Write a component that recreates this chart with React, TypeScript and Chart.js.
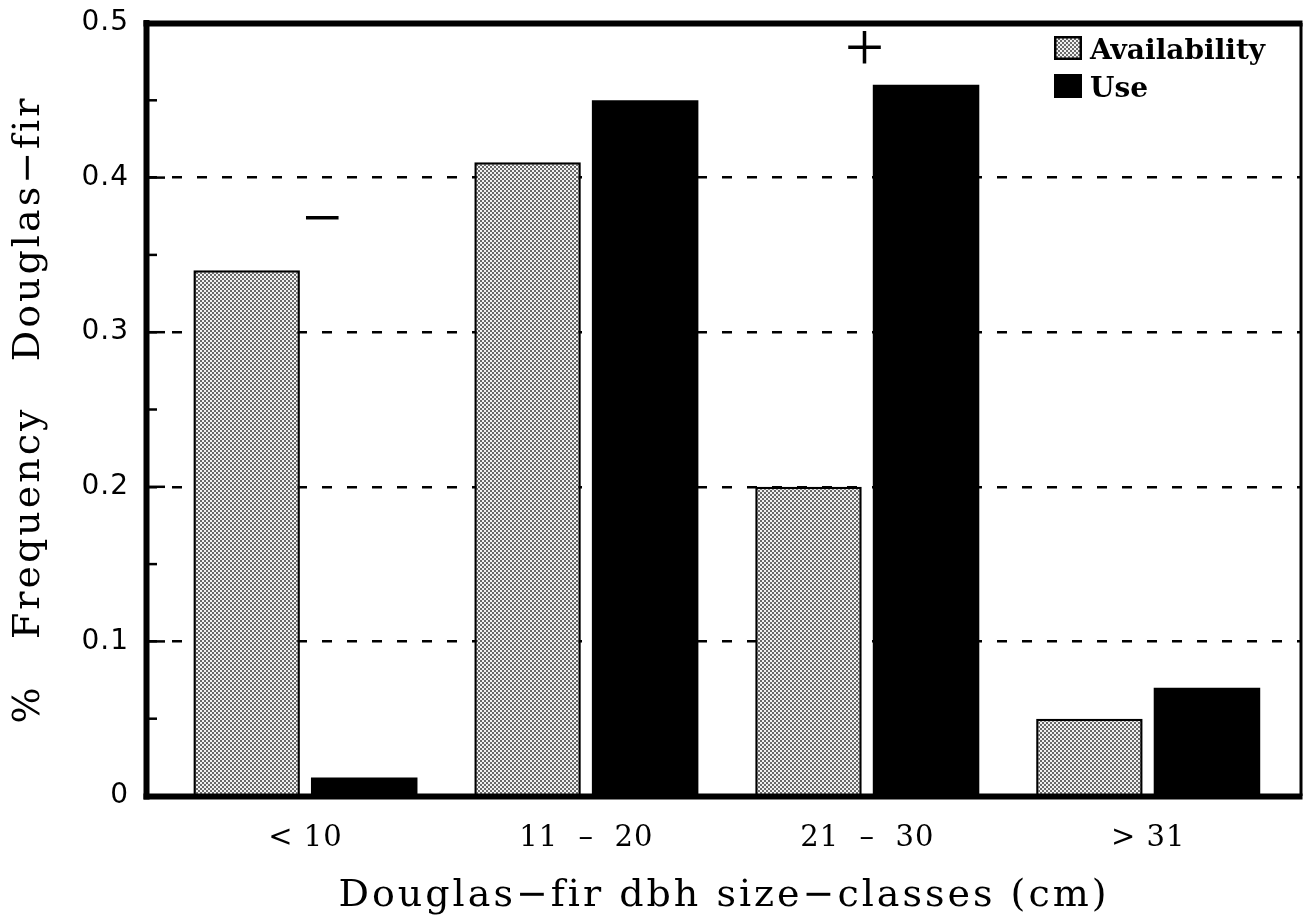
import React, { useEffect, useRef } from 'react';
import { Chart, registerables } from 'chart.js';

Chart.register(...registerables);

// ---- data ----
const categories = ['< 10', '11  –  20', '21  –  30', '> 31'];
const categoryPositions = [1, 2, 3, 4];
const availability = [0.34, 0.41, 0.2, 0.05];
const use = [0.012, 0.45, 0.46, 0.07];
const seriesLabels = ['Availability', 'Use'];
const signSymbols = ['−', '+'];
const signX = [1.06, 2.99];
const signY = [0.37, 0.48];
const yMin = 0;
const yMax = 0.5;
const yStep = 0.1;
const xTitle = 'Douglas−fir dbh size−classes (cm)';
const yTitle = '%   Frequency   Douglas−fir';

function makePattern(ctx: CanvasRenderingContext2D) {
  const c = document.createElement('canvas');
  c.width = 4;
  c.height = 4;
  const g = c.getContext('2d')!;
  g.fillStyle = '#f2f2f2';
  g.fillRect(0, 0, 4, 4);
  g.fillStyle = '#6a6a6a';
  g.fillRect(0, 0, 2, 2);
  g.fillRect(2, 2, 2, 2);
  return ctx.createPattern(c, 'repeat')!;
}

const spacingPlugin = {
  id: 'spacing',
  beforeDraw(chart: any) {
    const ctx = chart.ctx;
    ctx.letterSpacing = '1px';
    Object.values(chart.scales).forEach((s: any) => {
      if (!s.__patchedTitle) {
        const orig = s.drawTitle.bind(s);
        s.drawTitle = (...a: any[]) => {
          const prev = ctx.letterSpacing;
          ctx.letterSpacing = '3px';
          orig(...a);
          ctx.letterSpacing = prev;
        };
        s.__patchedTitle = true;
      }
    });
  },
};

const framePlugin = {
  id: 'frame',
  afterDatasetsDraw(chart: any) {
    const { ctx, chartArea: ca, scales } = chart;
    const ys = scales.y;
    const xs = scales.x;
    ctx.save();
    ctx.letterSpacing = '0px';
    ctx.strokeStyle = '#000';
    ctx.lineCap = 'butt';

    // inward ticks (major every step, minor at half steps)
    ctx.lineWidth = 2.5;
    for (let v = yMin + yStep / 2; v < yMax; v += yStep / 2) {
      const major = Math.abs(v / yStep - Math.round(v / yStep)) < 1e-6;
      const py = ys.getPixelForValue(v);
      ctx.beginPath();
      ctx.moveTo(ca.left, py);
      ctx.lineTo(ca.left + (major ? 18 : 10), py);
      ctx.stroke();
    }

    // frame
    ctx.lineWidth = 6;
    ctx.beginPath();
    ctx.moveTo(ca.left - 0.5, ca.top - 3);
    ctx.lineTo(ca.left - 0.5, ca.bottom + 3.5);
    ctx.stroke();
    ctx.beginPath();
    ctx.moveTo(ca.left - 3.5, ca.bottom + 0.5);
    ctx.lineTo(ca.right + 1.5, ca.bottom + 0.5);
    ctx.stroke();
    ctx.beginPath();
    ctx.moveTo(ca.left - 3.5, ca.top + 0.5);
    ctx.lineTo(ca.right + 1.5, ca.top + 0.5);
    ctx.stroke();
    ctx.lineWidth = 3;
    ctx.beginPath();
    ctx.moveTo(ca.right, ca.top);
    ctx.lineTo(ca.right, ca.bottom);
    ctx.stroke();

    // significance signs
    ctx.fillStyle = '#000';
    ctx.font = "70px 'Liberation Serif'";
    ctx.textAlign = 'center';
    ctx.textBaseline = 'alphabetic';
    signSymbols.forEach((s, i) => {
      const px = xs.getPixelForValue(signX[i]);
      const py = ys.getPixelForValue(signY[i]);
      ctx.fillText(s, px, py + 17);
    });

    // legend
    const ds = chart.data.datasets;
    const bx = ca.right - 247;
    ctx.font = "bold 28px 'DejaVu Serif'";
    ctx.textAlign = 'left';
    ds.forEach((d: any, i: number) => {
      const by = ca.top + 13 + i * 38;
      ctx.fillStyle = d.backgroundColor;
      ctx.fillRect(bx, by, 28, 24);
      ctx.lineWidth = 2.5;
      ctx.strokeRect(bx + 1.25, by + 1.25, 25.5, 21.5);
      ctx.fillStyle = '#000';
      ctx.fillText(d.label, bx + 36, ca.top + 36 + i * 38);
    });
    ctx.restore();
  },
};

export default function App() {
  const ref = useRef<HTMLCanvasElement>(null);

  useEffect(() => {
    document.body.style.margin = '0';
    const canvas = ref.current!;
    const ctx = canvas.getContext('2d')!;
    const pattern = makePattern(ctx);

    const chart = new Chart(ctx, {
      type: 'bar',
      data: {
        datasets: [
          {
            label: seriesLabels[0],
            data: categoryPositions.map((x, i) => ({ x, y: availability[i] })),
            backgroundColor: pattern as any,
            borderColor: '#000',
            borderWidth: 2.5,
            categoryPercentage: 0.837,
            barPercentage: 0.906,
          },
          {
            label: seriesLabels[1],
            data: categoryPositions.map((x, i) => ({ x, y: use[i] })),
            backgroundColor: '#000',
            borderColor: '#000',
            borderWidth: 0,
            categoryPercentage: 0.837,
            barPercentage: 0.906,
          },
        ] as any,
      },
      options: {
        responsive: false,
        maintainAspectRatio: false,
        animation: false,
        layout: { padding: { top: 23, right: 3, left: 0, bottom: 0 } },
        plugins: {
          legend: { display: false },
          tooltip: { enabled: false },
        },
        scales: {
          x: {
            type: 'linear',
            min: 0.436,
            max: 4.544,
            offset: false,
            grid: { display: false },
            border: { display: false },
            afterBuildTicks: (axis: any) => {
              axis.ticks = categoryPositions.map((v) => ({ value: v }));
            },
            afterFit: (s: any) => {
              s.height = 124;
              s.paddingLeft = 0;
              s.paddingRight = 0;
            },
            ticks: {
              autoSkip: false,
              maxRotation: 0,
              padding: 17,
              color: '#000',
              font: { family: "'DejaVu Serif'", size: 29 },
              callback: (_v: any, i: number) => categories[i],
            },
            title: {
              display: true,
              text: xTitle,
              color: '#000',
              font: { family: "'DejaVu Serif'", size: 38 },
              padding: { top: 0, bottom: 1 },
            },
          },
          y: {
            min: yMin,
            max: yMax,
            grid: {
              color: '#000',
              lineWidth: 2.5,
              drawTicks: false,
            },
            border: { display: false, dash: [10, 15] },
            afterFit: (s: any) => {
              s.width = 147;
              s.paddingTop = 0;
              s.paddingBottom = 0;
            },
            ticks: {
              stepSize: yStep,
              padding: 18,
              color: '#000',
              font: { family: "'DejaVu Sans'", size: 28 },
              callback: (v: any) => (Math.abs(v) < 1e-9 ? '0' : Number(v).toFixed(1)),
            },
            title: {
              display: true,
              text: yTitle,
              color: '#000',
              font: { family: "'DejaVu Serif'", size: 38 },
              padding: { top: 6, bottom: 0 },
            },
          },
        },
      } as any,
      plugins: [spacingPlugin, framePlugin],
    });

    return () => chart.destroy();
  }, []);

  return <canvas ref={ref} width={1304} height={920} style={{ display: 'block' }} />;
}
